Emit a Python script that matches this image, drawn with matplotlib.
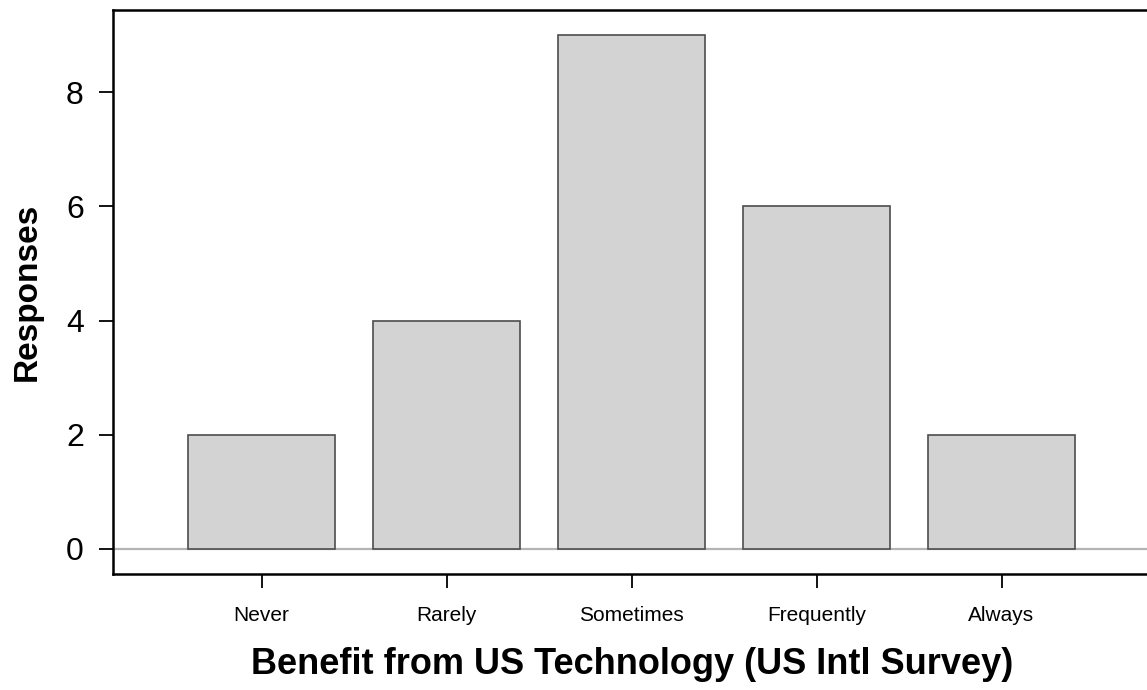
import matplotlib

matplotlib.use("Agg")
import matplotlib.pyplot as plt

categories = ["Never", "Rarely", "Sometimes", "Frequently", "Always"]
responses = [2, 4, 9, 6, 2]

plt.rcParams["font.family"] = ["Liberation Sans", "DejaVu Sans"]

fig = plt.figure(figsize=(11.47, 6.9), dpi=100)
ax = fig.add_axes([113 / 1147, 1 - 574 / 690, (1152 - 113) / 1147, (574 - 10) / 690])

positions = list(range(len(categories)))
ax.axhline(0, color="#b4b4b4", linewidth=1.6, zorder=1)
ax.bar(positions, responses, width=0.797, color="#d3d3d3",
       edgecolor="#4d4d4d", linewidth=1.2, zorder=2)

unit = 57.1
ax.set_ylim(-25 / unit, (549 - 10) / unit)
ax.set_xlim(-(261.5 - 113) / 185.0, (1152 - 261.5) / 185.0)

ax.set_yticks([0, 2, 4, 6, 8])
ax.set_xticks(positions)
ax.set_xticklabels(categories, fontsize=15)
ax.tick_params(axis="y", labelsize=23, length=10, width=1.3, pad=11)
ax.tick_params(axis="x", length=10, width=1.3, pad=13)

for side in ["left", "bottom", "top"]:
    ax.spines[side].set_linewidth(1.8)
ax.spines["right"].set_visible(False)

ax.set_xlabel("Benefit from US Technology (US Intl Survey)", fontsize=26,
              fontweight="bold", labelpad=16)
ax.set_ylabel("Responses", fontsize=24, fontweight="bold", labelpad=17)

fig.savefig("out.png", dpi=100)
plt.close(fig)
